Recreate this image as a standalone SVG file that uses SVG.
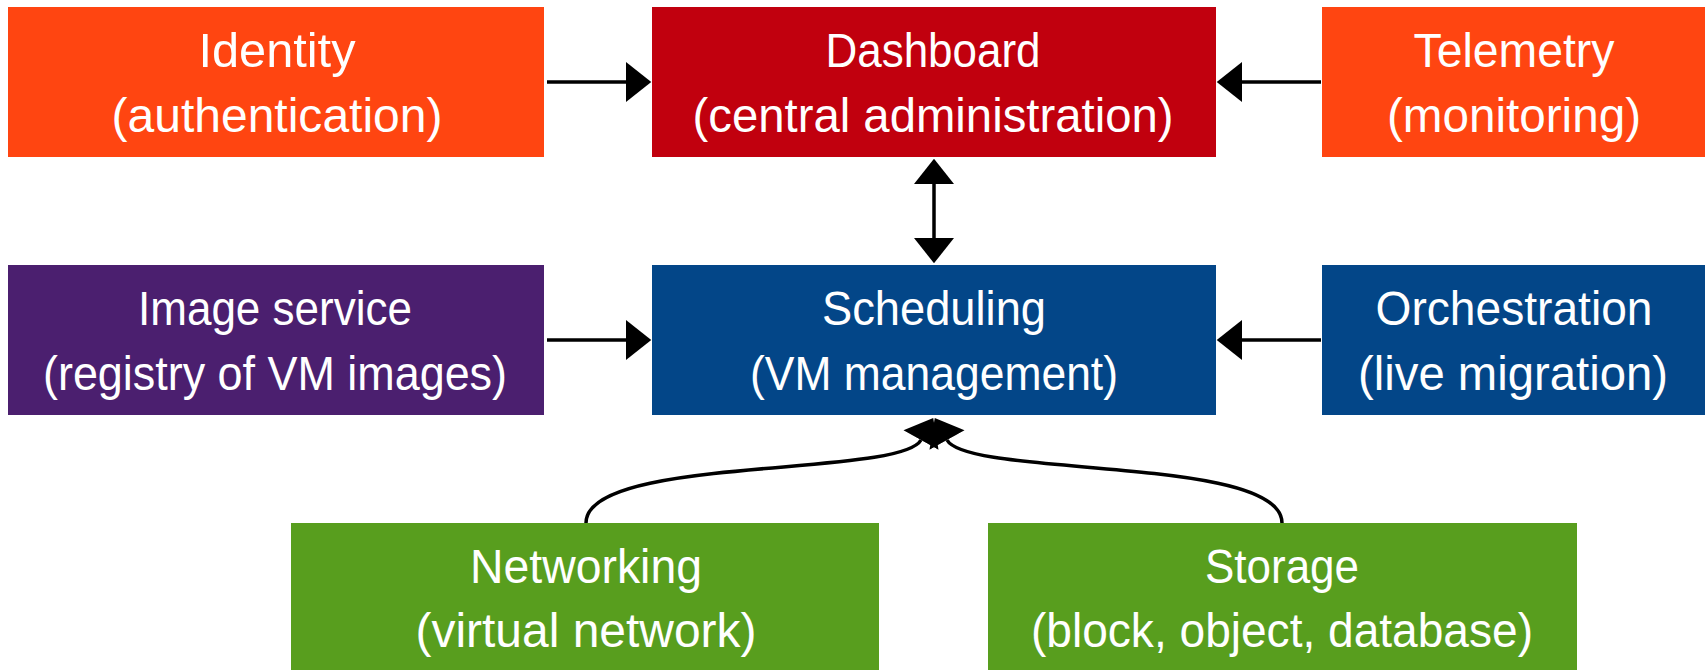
<svg xmlns="http://www.w3.org/2000/svg" width="1705" height="670" viewBox="0 0 1705 670">
  <style>
    .lbl { fill: #ffffff; font-family: "Liberation Sans", Arial, sans-serif; font-size: 48px; text-anchor: middle; }
    .orange { fill: #FF4511; }
    .red { fill: #C1000E; }
    .blue { fill: #034688; }
    .purple { fill: #4B1F6F; }
    .green { fill: #589E1E; }
    .edge { fill: none; stroke: #000000; stroke-width: 3.5; }
  </style>
  <defs>
    <marker id="head" markerUnits="userSpaceOnUse" markerWidth="26" markerHeight="40" viewBox="0 -19 24 38" refX="0" refY="0" orient="auto-start-reverse">
      <path d="M0,-19 L24,0 L0,19 z" fill="#000000"/>
    </marker>
  </defs>
  <rect width="1705" height="670" fill="#ffffff"/>

  <g id="identity">
    <rect class="orange" x="8" y="7" width="536" height="150"/>
    <text class="lbl" x="277" y="67" textLength="157" lengthAdjust="spacingAndGlyphs">Identity</text>
    <text class="lbl" x="277" y="132" textLength="331" lengthAdjust="spacingAndGlyphs">(authentication)</text>
  </g>
  <g id="dashboard">
    <rect class="red" x="652" y="7" width="564" height="150"/>
    <text class="lbl" x="933" y="67" textLength="215" lengthAdjust="spacingAndGlyphs">Dashboard</text>
    <text class="lbl" x="933" y="132" textLength="481" lengthAdjust="spacingAndGlyphs">(central administration)</text>
  </g>
  <g id="telemetry">
    <rect class="orange" x="1322" y="7" width="390" height="150"/>
    <text class="lbl" x="1514" y="67" textLength="201" lengthAdjust="spacingAndGlyphs">Telemetry</text>
    <text class="lbl" x="1514" y="132" textLength="254" lengthAdjust="spacingAndGlyphs">(monitoring)</text>
  </g>

  <g id="image-service">
    <rect class="purple" x="8" y="265" width="536" height="150"/>
    <text class="lbl" x="275" y="325" textLength="274" lengthAdjust="spacingAndGlyphs">Image service</text>
    <text class="lbl" x="275" y="390" textLength="464" lengthAdjust="spacingAndGlyphs">(registry of VM images)</text>
  </g>
  <g id="scheduling">
    <rect class="blue" x="652" y="265" width="564" height="150"/>
    <text class="lbl" x="934" y="325" textLength="224" lengthAdjust="spacingAndGlyphs">Scheduling</text>
    <text class="lbl" x="934" y="390" textLength="368" lengthAdjust="spacingAndGlyphs">(VM management)</text>
  </g>
  <g id="orchestration">
    <rect class="blue" x="1322" y="265" width="390" height="150"/>
    <text class="lbl" x="1514" y="325" textLength="277" lengthAdjust="spacingAndGlyphs">Orchestration</text>
    <text class="lbl" x="1513" y="390" textLength="310" lengthAdjust="spacingAndGlyphs">(live migration)</text>
  </g>

  <g id="networking">
    <rect class="green" x="291" y="523" width="588" height="150"/>
    <text class="lbl" x="586" y="583" textLength="232" lengthAdjust="spacingAndGlyphs">Networking</text>
    <text class="lbl" x="586" y="647" textLength="341" lengthAdjust="spacingAndGlyphs">(virtual network)</text>
  </g>
  <g id="storage">
    <rect class="green" x="988" y="523" width="589" height="150"/>
    <text class="lbl" x="1282" y="583" textLength="154" lengthAdjust="spacingAndGlyphs">Storage</text>
    <text class="lbl" x="1282" y="647" textLength="502" lengthAdjust="spacingAndGlyphs">(block, object, database)</text>
  </g>

  <g id="connectors">
    <path class="edge" d="M547,82 H626" marker-end="url(#head)"/>
    <path class="edge" d="M1321,82 H1242" marker-end="url(#head)"/>
    <path class="edge" d="M934,184 V238" marker-start="url(#head)" marker-end="url(#head)"/>
    <path class="edge" d="M547,340 H626" marker-end="url(#head)"/>
    <path class="edge" d="M1321,340 H1242" marker-end="url(#head)"/>
    <path class="edge" d="M586,523 C586,455 900,478 921,440" marker-end="url(#head)"/>
    <path class="edge" d="M1282,523 C1282,455 968,478 947,440" marker-end="url(#head)"/>
  </g>
</svg>
